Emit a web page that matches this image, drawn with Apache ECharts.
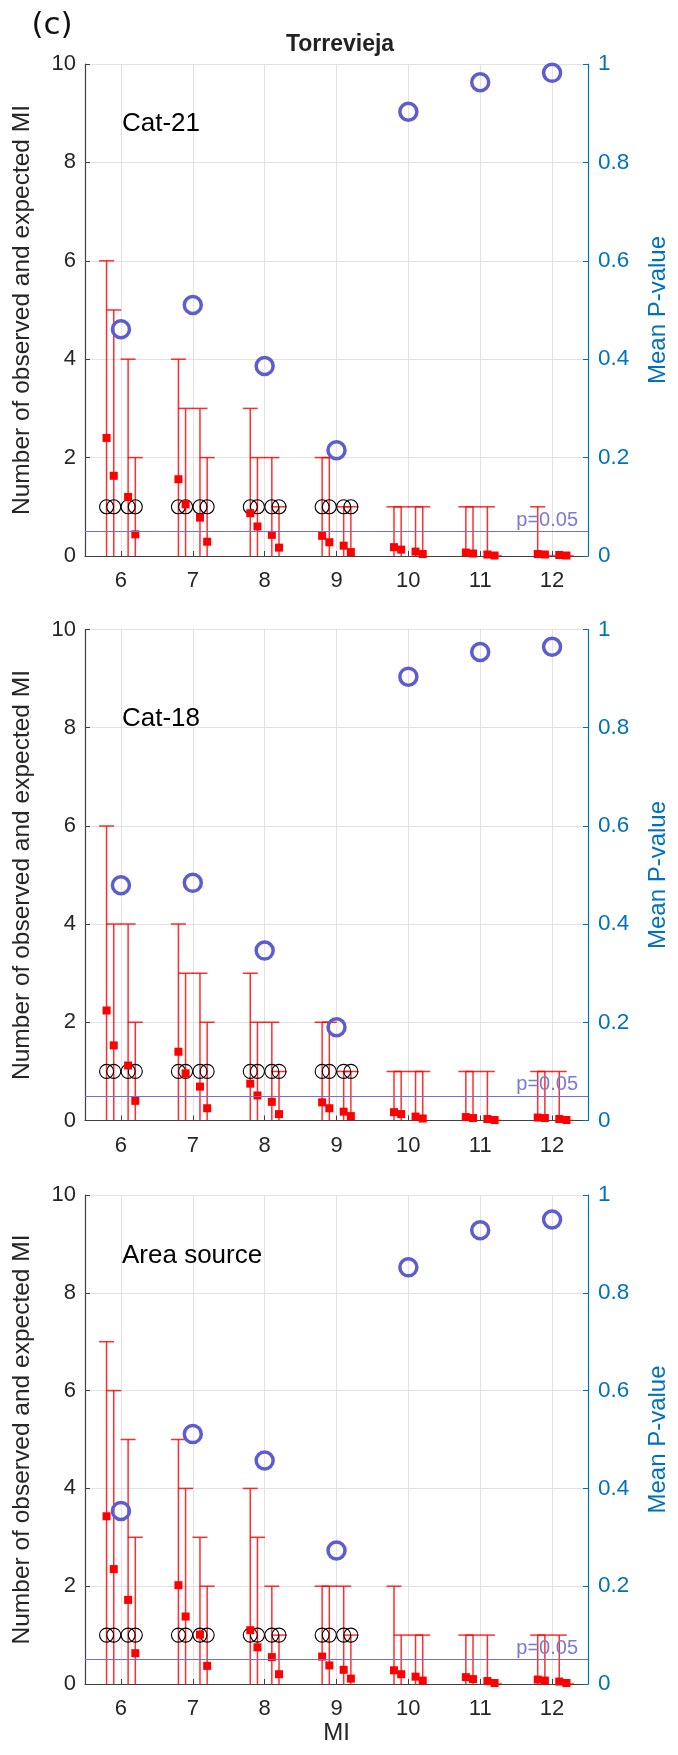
<!DOCTYPE html>
<html>
<head>
<meta charset="utf-8">
<script src="https://cdn.jsdelivr.net/npm/echarts@6/dist/echarts.min.js"></script>
<style>
  html, body { margin: 0; padding: 0; background: #fff; }
  #chart { width: 678px; height: 1755px; }
</style>
</head>
<body>
<div id="chart"></div>
<script>
// MI classes on the x axis
const miLevels = [6, 7, 8, 9, 10, 11, 12];
// four simulations drawn side by side inside each MI class
const simOffsets = [-0.2, -0.1, 0.1, 0.2];

// Cat-21 : upper end of the error bar, mean expected number, observed, mean P-value
const cat21Upper = [[6, 5, 4, 2], [4, 3, 3, 2], [3, 2, 2, 1], [2, 2, 1, 1], [1, 1, 1, 1], [1, 1, 1, 0], [1, 0, 0, 0]];
const cat21Mean = [[2.40, 1.63, 1.20, 0.44], [1.56, 1.05, 0.78, 0.29], [0.87, 0.60, 0.43, 0.17], [0.41, 0.28, 0.21, 0.08],
  [0.18, 0.13, 0.09, 0.04], [0.07, 0.05, 0.03, 0.01], [0.04, 0.03, 0.02, 0.01]];
const cat21Obs = [1, 1, 1, 1, null, null, null];
const cat21P = [0.461, 0.510, 0.386, 0.215, 0.903, 0.963, 0.982];

// Cat-18
const cat18Upper = [[6, 4, 4, 2], [4, 3, 3, 2], [3, 2, 2, 1], [2, 2, 1, 1], [1, 1, 1, 1], [1, 1, 1, 0], [1, 1, 1, 0]];
const cat18Mean = [[2.24, 1.53, 1.12, 0.40], [1.40, 0.96, 0.69, 0.25], [0.75, 0.51, 0.38, 0.13], [0.37, 0.25, 0.18, 0.09],
  [0.17, 0.13, 0.08, 0.04], [0.07, 0.05, 0.03, 0.01], [0.06, 0.05, 0.03, 0.01]];
const cat18Obs = [1, 1, 1, 1, null, null, null];
const cat18P = [0.479, 0.484, 0.346, 0.190, 0.904, 0.954, 0.965];

// Area source
const areaUpper = [[7, 6, 5, 3], [5, 4, 3, 2], [4, 3, 2, 1], [2, 2, 2, 1], [2, 1, 1, 1], [1, 1, 1, 0], [1, 1, 1, 0]];
const areaMean = [[3.43, 2.35, 1.72, 0.63], [2.02, 1.38, 1.01, 0.37], [1.10, 0.75, 0.55, 0.20], [0.56, 0.38, 0.29, 0.11],
  [0.28, 0.20, 0.15, 0.07], [0.14, 0.10, 0.06, 0.02], [0.09, 0.07, 0.05, 0.02]];
const areaObs = [1, 1, 1, 1, null, null, null];
const areaP = [0.354, 0.511, 0.457, 0.273, 0.852, 0.928, 0.950];

const pLimit = 0.05;

const panels = [
  { label: 'Cat-21', upper: cat21Upper, mean: cat21Mean, obs: cat21Obs, pval: cat21P, top: 64, height: 492, labelY: 124 },
  { label: 'Cat-18', upper: cat18Upper, mean: cat18Mean, obs: cat18Obs, pval: cat18P, top: 629.5, height: 491, labelY: 719 },
  { label: 'Area source', upper: areaUpper, mean: areaMean, obs: areaObs, pval: areaP, top: 1195, height: 489, labelY: 1256 }
];

const axisGray = '#404040';
const textGray = '#262626';
const rightBlue = '#0072BD';
const pBlue = '#5d5dcf';
const font = 'Liberation Sans, Arial, sans-serif';

function renderErrorBar(params, api) {
  const x = api.value(0);
  const top = api.coord([x, api.value(1)]);
  const bottom = api.coord([x, 0]);
  const cap = 7.5;
  const style = { stroke: 'rgba(255,0,0,0.82)', lineWidth: 1.5 };
  return {
    type: 'group',
    children: [
      { type: 'line', shape: { x1: top[0], y1: top[1], x2: bottom[0], y2: bottom[1] }, style: style },
      { type: 'line', shape: { x1: top[0] - cap, y1: top[1], x2: top[0] + cap, y2: top[1] }, style: style }
    ]
  };
}

let grids = [], xAxes = [], yAxes = [], series = [];
let graphics = [
  { type: 'text', x: 52, y: 26, z: 100, style: { text: '(c)', fill: '#111', fontSize: 31, fontFamily: 'DejaVu Sans', align: 'center', verticalAlign: 'middle' } },
  { type: 'text', x: 340, y: 45, z: 100, style: { text: 'Torrevieja', fill: '#222', fontSize: 23, fontWeight: 'bold', fontFamily: font, align: 'center', verticalAlign: 'middle' } }
];

panels.forEach(function (p, i) {
  grids.push({ left: 85, right: 83, top: p.top, height: p.height });
  xAxes.push({
    type: 'value', gridIndex: i, min: 5.5, max: 12.5,
    name: i === 2 ? 'MI' : '', nameLocation: 'middle', nameGap: 36,
    nameTextStyle: { fontSize: 24, color: textGray, fontFamily: font },
    axisLine: { show: true, lineStyle: { color: axisGray, width: 1.2 } },
    axisTick: { show: true, inside: true, length: 5, customValues: miLevels, lineStyle: { color: axisGray } },
    axisLabel: { customValues: miLevels, fontSize: 22, color: textGray, fontFamily: font, margin: 14 },
    splitLine: { show: true, lineStyle: { color: '#e2e2e2', width: 1 } }
  });
  yAxes.push({
    type: 'value', gridIndex: i, min: 0, max: 10, interval: 2, position: 'left',
    name: 'Number of observed and expected MI', nameLocation: 'middle', nameGap: 50,
    nameTextStyle: { fontSize: 24.5, color: textGray, fontFamily: font },
    axisLine: { show: true, lineStyle: { color: axisGray, width: 1.2 } },
    axisTick: { show: true, inside: true, length: 5, lineStyle: { color: axisGray } },
    axisLabel: { fontSize: 22, color: textGray, fontFamily: font, margin: 9 },
    splitLine: { show: true, lineStyle: { color: '#e2e2e2', width: 1 } }
  });

  let bars = [], means = [], circles = [];
  miLevels.forEach(function (mi, g) {
    simOffsets.forEach(function (off, k) {
      bars.push([mi + off, p.upper[g][k]]);
      means.push([mi + off, p.mean[g][k]]);
      if (p.obs[g] !== null) circles.push([mi + off, p.obs[g]]);
    });
  });

  series.push({
    type: 'custom', xAxisIndex: i, yAxisIndex: i, renderItem: renderErrorBar,
    data: bars, clip: true, z: 2, silent: true
  });
  series.push({
    type: 'scatter', xAxisIndex: i, yAxisIndex: i, data: circles, symbol: 'circle', symbolSize: 14,
    itemStyle: { color: 'rgba(0,0,0,0)', borderColor: '#000', borderWidth: 1.1, opacity: 1 }, z: 3, silent: true
  });
  series.push({
    type: 'scatter', xAxisIndex: i, yAxisIndex: i, data: means, symbol: 'rect', symbolSize: 8,
    itemStyle: { color: '#ff0000', opacity: 1 }, z: 4, silent: true
  });
  graphics.push({ type: 'text', x: 122, y: p.labelY, z: 100, style: { text: p.label, fill: '#000', fontSize: 26, fontFamily: font, align: 'left', verticalAlign: 'middle' } });
});

panels.forEach(function (p, i) {
  yAxes.push({
    type: 'value', gridIndex: i, min: 0, max: 1, interval: 0.2, position: 'right',
    name: 'Mean P-value', nameLocation: 'middle', nameGap: 58,
    nameTextStyle: { fontSize: 24, color: rightBlue, fontFamily: font },
    axisLine: { show: true, lineStyle: { color: rightBlue, width: 1.2 } },
    axisTick: { show: true, inside: true, length: 5, lineStyle: { color: rightBlue } },
    axisLabel: { fontSize: 22.5, color: rightBlue, fontFamily: font, margin: 10 },
    splitLine: { show: false }
  });
  series.push({
    type: 'scatter', xAxisIndex: i, yAxisIndex: 3 + i,
    data: miLevels.map(function (mi, g) { return [mi, p.pval[g]]; }),
    symbol: 'circle', symbolSize: 17,
    itemStyle: { color: 'rgba(0,0,0,0)', borderColor: pBlue, borderWidth: 3.5, opacity: 1 }, z: 5, silent: true,
    markLine: {
      silent: true, symbol: 'none', animation: false,
      lineStyle: { color: '#6f6fde', width: 1, type: 'solid', opacity: 1 },
      label: { show: true, position: 'insideEndTop', formatter: 'p=0.05', color: '#7a7ad6', fontSize: 20, fontFamily: font, distance: [10, 1] },
      data: [{ yAxis: pLimit }]
    }
  });
});

const chart = echarts.init(document.getElementById('chart'), null, { renderer: 'canvas' });
chart.setOption({
  animation: false,
  backgroundColor: '#fff',
  grid: grids,
  xAxis: xAxes,
  yAxis: yAxes,
  series: series,
  graphic: graphics
});
</script>
</body>
</html>
